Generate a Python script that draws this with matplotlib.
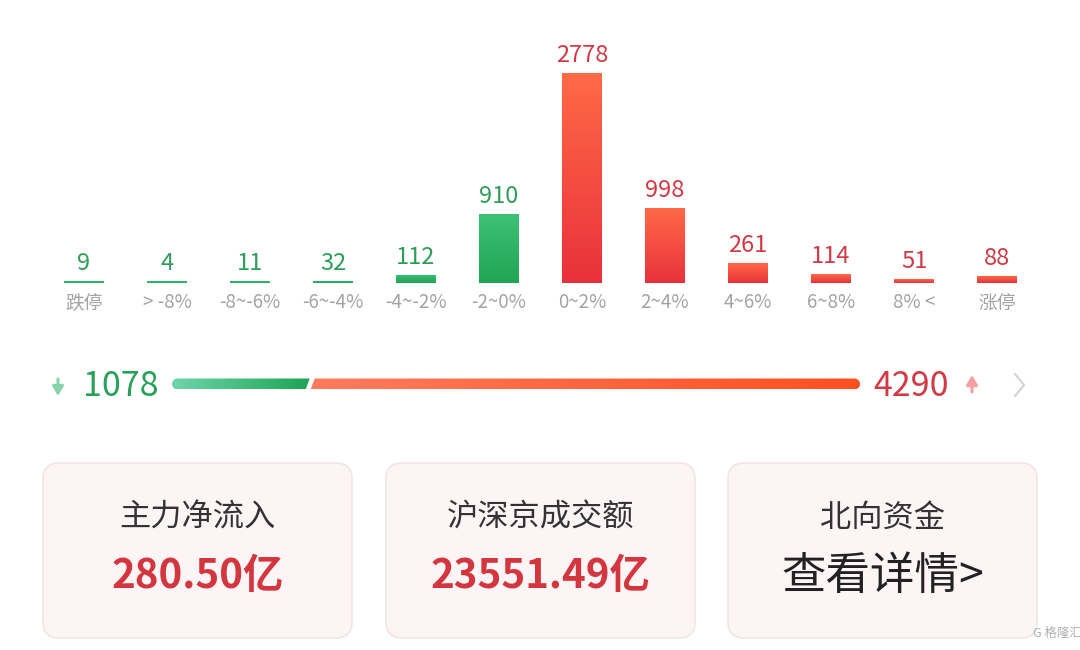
import numpy as np
import matplotlib
matplotlib.use("Agg")
import matplotlib.pyplot as plt
from matplotlib.patches import FancyBboxPatch, Polygon
from matplotlib.colors import LinearSegmentedColormap

plt.rcParams['font.family'] = ['Noto Sans CJK SC', 'DejaVu Sans']

# ---- data ----
categories = ['跌停', '> -8%', '-8~-6%', '-6~-4%', '-4~-2%', '-2~0%',
              '0~2%', '2~4%', '4~6%', '6~8%', '8% <', '涨停']
counts = [9, 4, 11, 32, 112, 910, 2778, 998, 261, 114, 51, 88]
is_up = [False] * 6 + [True] * 6
down_total = 1078
up_total = 4290
card_titles = ['主力净流入', '沪深京成交额', '北向资金']
card_values = ['280.50亿', '23551.49亿', '查看详情>']

GREEN_TXT = '#2E9D5A'
RED_TXT = '#D13A45'
GRAY_TXT = '#A3A3A3'

fig = plt.figure(figsize=(10.8, 6.5), dpi=100)
fig.patch.set_facecolor('white')

# overlay axes in pixel coordinates
ov = fig.add_axes([0, 0, 1, 1])
ov.set_xlim(0, 1080)
ov.set_ylim(650, 0)
ov.axis('off')

# ---- bar chart ----
W, H = 1080, 650
step = 83
first_c = 84
base_px = 283
top_px = 73
bx = fig.add_axes([(first_c - step / 2) / W, (H - base_px) / H,
                   step * len(counts) / W, (base_px - top_px) / H])
bx.axis('off')
n = len(counts)
xs = np.arange(n)
min_h = max(counts) * 0.0075
disp = [max(c, min_h) for c in counts]
bars = bx.bar(xs, disp, width=40 / step, color=['#E93A3C' if u else '#22A857' for u in is_up],
              linewidth=0)

red_cmap = LinearSegmentedColormap.from_list('r', ['#E9313B', '#FF6A47'])
green_cmap = LinearSegmentedColormap.from_list('g', ['#1FA553', '#3DC176'])
grad = np.linspace(0, 1, 256).reshape(-1, 1)
for rect, up in zip(bars, is_up):
    x0 = rect.get_x()
    w = rect.get_width()
    h = rect.get_height()
    im = bx.imshow(grad, cmap=red_cmap if up else green_cmap, origin='lower',
                   extent=[x0, x0 + w, 0, h], aspect='auto', zorder=2)
    im.set_clip_path(rect)

bx.set_xlim(-0.5, n - 0.5)
bx.set_ylim(0, max(counts))

for i, (c, d, up) in enumerate(zip(counts, disp, is_up)):
    bx.annotate(str(c), xy=(i, d), xytext=(0, 11), textcoords='offset pixels',
                ha='center', va='baseline', fontsize=17,
                color=RED_TXT if up else GREEN_TXT, annotation_clip=False)
    bx.annotate(categories[i], xy=(i, 0), xytext=(0, -20), textcoords='offset pixels',
                ha='center', va='center', fontsize=13.5, color=GRAY_TXT,
                annotation_clip=False)

# ---- progress bar ----
px0, px1, yc, hh = 172, 860, 384, 11
r = hh / 2
total = down_total + up_total
split = px0 + (px1 - px0) * down_total / total
gap = 5
slant = 2

def capsule_part(xa, xb, left_round, right_round, left_slant, right_slant):
    pts = []
    if left_round:
        th = np.linspace(np.pi / 2, 3 * np.pi / 2, 30)
        pts += list(zip(xa + r + r * np.cos(th), yc - r * np.sin(th)))
    else:
        pts += [(xa + left_slant, yc - r), (xa - left_slant, yc + r)]
    if right_round:
        th = np.linspace(-np.pi / 2, np.pi / 2, 30)
        pts += list(zip(xb - r + r * np.cos(th), yc - r * np.sin(th)))
    else:
        pts += [(xb - right_slant, yc + r), (xb + right_slant, yc - r)]
    return np.array(pts)

g_poly = Polygon(capsule_part(px0, split - gap / 2, True, False, 0, slant),
                 closed=True, facecolor='none', edgecolor='none')
r_poly = Polygon(capsule_part(split + gap / 2, px1, False, True, slant, 0),
                 closed=True, facecolor='none', edgecolor='none')
ov.add_patch(g_poly)
ov.add_patch(r_poly)
hgrad = np.linspace(0, 1, 256).reshape(1, -1)
g_cm = LinearSegmentedColormap.from_list('pg', ['#6FD4AA', '#1AA452'])
r_cm = LinearSegmentedColormap.from_list('pr', ['#FF7C5E', '#FF5020'])
im1 = ov.imshow(hgrad, cmap=g_cm, extent=[px0, split + 3, yc + r, yc - r], aspect='auto', zorder=2)
im1.set_clip_path(g_poly)
im2 = ov.imshow(hgrad, cmap=r_cm, extent=[split - 3, px1, yc + r, yc - r], aspect='auto', zorder=2)
im2.set_clip_path(r_poly)
ov.set_xlim(0, 1080)
ov.set_ylim(650, 0)

ov.text(121, 386, str(down_total), ha='center', va='center', fontsize=24.5,
        color='#27A05A', fontweight='medium')
ov.text(911, 386, str(up_total), ha='center', va='center', fontsize=24.5,
        color=RED_TXT, fontweight='medium')
ov.annotate('', xy=(58, 396), xytext=(58, 379),
            arrowprops=dict(arrowstyle='-|>,head_width=0.32,head_length=0.55',
                            color='#86D2AA', lw=2.2, shrinkA=0, shrinkB=0))
ov.annotate('', xy=(972, 375), xytext=(972, 392),
            arrowprops=dict(arrowstyle='-|>,head_width=0.32,head_length=0.55',
                            color='#F4A0A0', lw=2.2, shrinkA=0, shrinkB=0))
ov.plot([1015, 1024, 1015], [374, 385, 396], color='#D5D5D5', lw=1.6,
        solid_capstyle='round', solid_joinstyle='round')

# ---- cards ----
card_x = [43, 386, 728]
card_w = 309
card_y0, card_y1 = 463, 638
for i, (cx, t, v) in enumerate(zip(card_x, card_titles, card_values)):
    box = FancyBboxPatch((cx, card_y0), card_w, card_y1 - card_y0,
                         boxstyle='round,pad=0,rounding_size=16',
                         facecolor='#FDF5F5', edgecolor='#F1E6E6', lw=1.2, zorder=1)
    ov.add_patch(box)
    mid = cx + card_w / 2
    ov.text(mid, 518, t, ha='center', va='center', fontsize=22.5, color='#333333', zorder=3)
    if i < 2:
        ov.text(mid, 577, v, ha='center', va='center', fontsize=29,
                color='#D4363F', fontweight='bold', zorder=3)
    else:
        ov.text(mid, 576, v, ha='center', va='center', fontsize=32,
                color='#222222', zorder=3)

ov.text(1057, 633, 'G 格隆汇', ha='center', va='center', fontsize=9,
        color='#B0B0B0', zorder=3)

fig.savefig('out.png', dpi=100, facecolor='white')
